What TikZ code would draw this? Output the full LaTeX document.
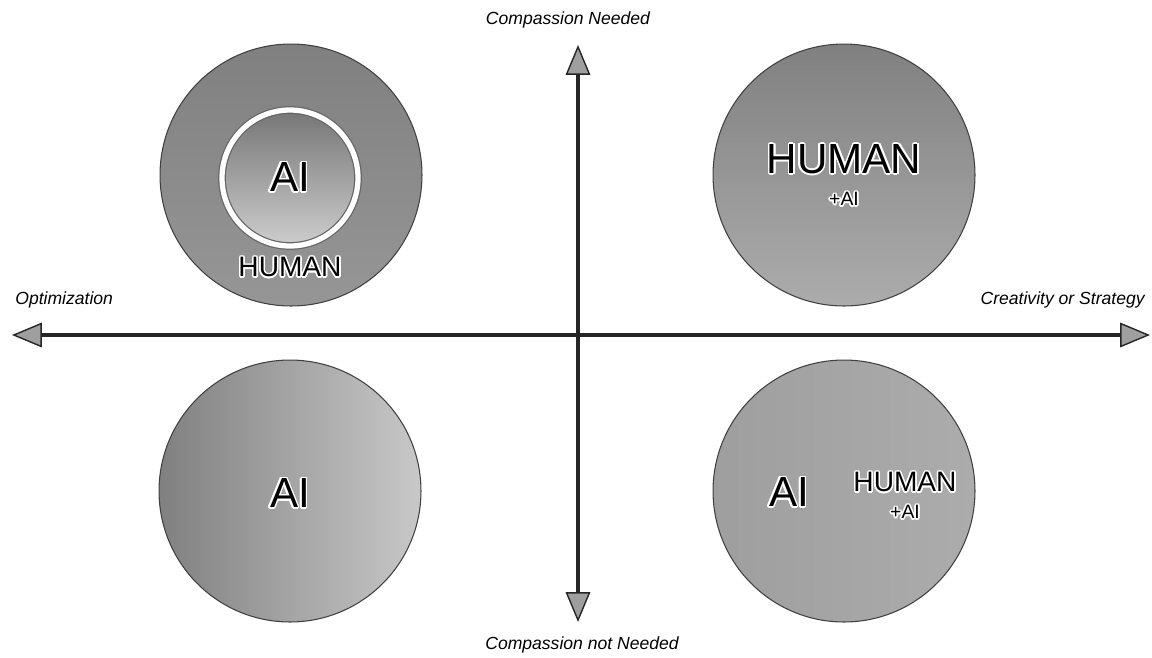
\documentclass[tikz,border=0pt]{standalone}
\usepackage{fontspec}
\setmainfont{Liberation Sans}
\usepackage[copies]{contour}
\usetikzlibrary{arrows.meta}
\contourlength{0.9pt}
\contournumber{16}

\definecolor{diskdark}{RGB}{128,128,128}
\definecolor{diskmid}{RGB}{150,150,150}
\definecolor{disklight}{RGB}{172,172,172}
\definecolor{diskpale}{RGB}{200,200,200}

\newcommand{\halo}[1]{\contour{white}{#1}}

\begin{document}
\begin{tikzpicture}[x=0.02cm, y=-0.02cm,
                bigdisk/.style={circle, minimum size=5.24cm, inner sep=0pt, draw=black!75, line width=0.6pt},
                axisline/.style={line width=2.4pt, black!85,
                    {Triangle[length=17pt, width=14pt, line width=0.8pt, fill=gray!75]}-{Triangle[length=17pt, width=14pt, line width=0.8pt, fill=gray!75]}},
                axislabel/.style={font=\fontsize{10}{12}\selectfont\itshape, inner sep=0pt},
                biglabel/.style={font=\fontsize{24}{28}\selectfont, inner sep=0pt},
                midlabel/.style={font=\fontsize{16}{19}\selectfont, inner sep=0pt},
                smalllabel/.style={font=\fontsize{11}{13}\selectfont, inner sep=0pt},
                ]
                \useasboundingbox (0,0) rectangle (1152,657);

                % four quadrant disks
                \node[bigdisk, top color=diskdark, bottom color=diskmid] (nw) at (291,175) {};
                \node[bigdisk, top color=diskdark, bottom color=disklight] (ne) at (844,175) {};
                \node[bigdisk, left color=diskdark, right color=diskpale] (sw) at (290,491) {};
                \node[bigdisk, left color=disklight!92!black, right color=disklight] (se) at (844,491) {};

                % inner disk with white ring
                \node[circle, minimum size=2.72cm, inner sep=0pt, draw=black!60, line width=4.4pt,
                      top color=diskdark!92!black, bottom color=diskpale!90!white] (inner) at (290,178) {};
                \draw[white, line width=3pt] (inner.center) circle[radius=68];

                % labels inside the disks
                \node[biglabel] (nwai) at (inner.center) {\halo{AI}};
                \node[midlabel] (nwhuman) at (290,268) {\halo{HUMAN}};
                \node[biglabel] (nehuman) at (844,160) {\halo{HUMAN}};
                \node[smalllabel] (neai) at (844,200) {\halo{+AI}};
                \node[biglabel] (swai) at (290,494) {\halo{AI}};
                \node[biglabel] (seai) at (789,493) {\halo{AI}};
                \node[midlabel] (sehuman) at (905,483) {\halo{HUMAN}};
                \node[smalllabel] (seplus) at (905,513) {\halo{+AI}};

                % axes
                \coordinate (west) at (12,335);
                \coordinate (east) at (1150,335);
                \coordinate (north) at (578,45);
                \coordinate (south) at (578,622);
                \draw[axisline] (west) -- (east);
                \draw[axisline] (south) -- (north);

                \node[axislabel, anchor=west] (opt) at (15,300) {Optimization};
                \node[axislabel, anchor=east] (crea) at (1145,300) {Creativity or Strategy};
                \node[axislabel] (needed) at (568,20) {Compassion Needed};
                \node[axislabel] (notneeded) at (582,645) {Compassion not Needed};
            \end{tikzpicture}
\end{document}
